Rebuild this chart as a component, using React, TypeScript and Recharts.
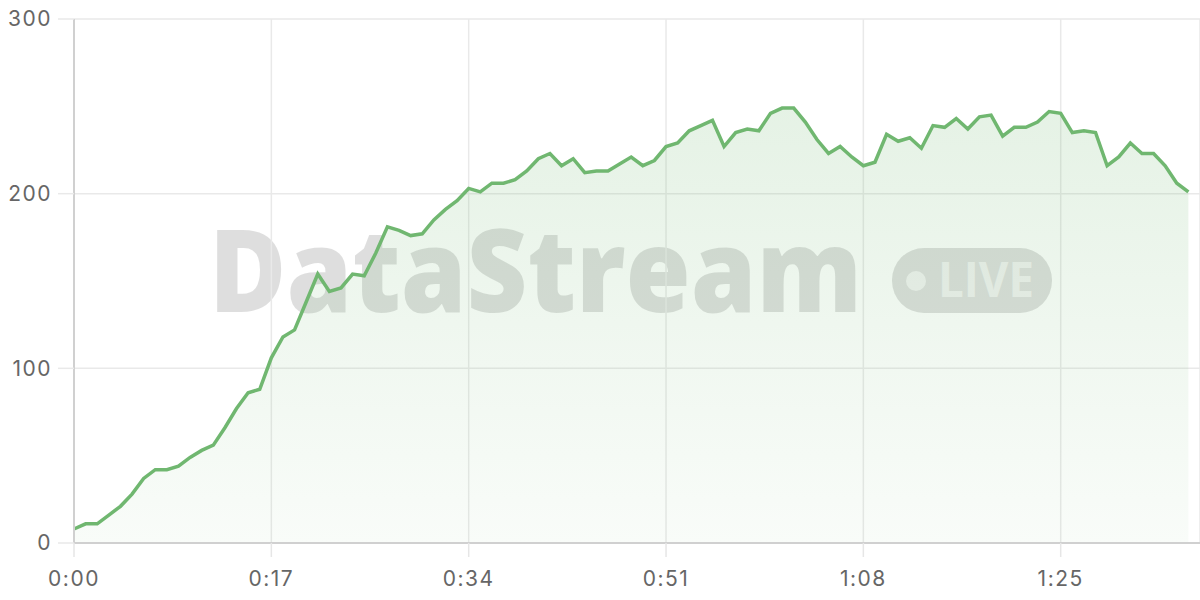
import { AreaChart, Area, XAxis, YAxis, CartesianGrid } from 'recharts'

// one reading per second, 0:00 .. 1:36
const values = [
  8, 11, 11, 16, 21, 28, 37, 42, 42, 44, 49, 53, 56, 66, 77, 86, 88,
  106, 118, 122, 138, 154, 144, 146, 154, 153, 166, 181, 179, 176, 177, 185, 191, 196,
  203, 201, 206, 206, 208, 213, 220, 223, 216, 220, 212, 213, 213, 217, 221, 216, 219,
  227, 229, 236, 239, 242, 227, 235, 237, 236, 246, 249, 249, 241, 231, 223, 227, 221,
  216, 218, 234, 230, 232, 226, 239, 238, 243, 237, 244, 245, 233, 238, 238, 241,
  247, 246, 235, 236, 235, 216, 221, 229, 223, 223, 216, 206, 201,
]
const xTicks = [0, 17, 34, 51, 68, 85]
const yTicks = [0, 100, 200, 300]

const data = values.map((v, i) => ({ t: i, v }))

const fmtTime = (t: number) => `${Math.floor(t / 60)}:${String(t % 60).padStart(2, '0')}`

const GREEN = '#70b770'
const LABEL = { fill: '#666', fontSize: 21, fontFamily: 'Inter, sans-serif', letterSpacing: 1.5 }

function Watermark() {
  return (
    <svg width={1200} height={600} style={{ position: 'absolute', left: 0, top: 0 }}>
      <g fill="rgba(0,0,0,0.13)" fontFamily="'Open Sans', sans-serif" fontWeight={800}>
        <text x={209} y={312} fontSize={116} textLength={653} lengthAdjust="spacingAndGlyphs">DataStream</text>
        <rect x={892} y={248} width={160} height={65} rx={32} />
      </g>
      <circle cx={916} cy={281} r={10} fill="rgba(255,255,255,0.6)" />
      <text x={938} y={297} fontSize={48} fontWeight={700} fontFamily="'Open Sans', sans-serif"
        fill="rgba(255,255,255,0.6)" textLength={96} lengthAdjust="spacingAndGlyphs">LIVE</text>
    </svg>
  )
}

export default function App() {
  return (
    <div style={{ position: 'absolute', left: 0, top: 0, width: 1200, height: 600, background: '#fff' }}>
      <Watermark />
      <div style={{ position: 'absolute', left: 0, top: 0 }}>
        <AreaChart width={1200} height={600} data={data} margin={{ top: 19, right: 0, bottom: 0, left: 0 }}>
          <defs>
            <linearGradient id="fillG" x1="0" y1="0" x2="0" y2="1">
              <stop offset="0%" stopColor={GREEN} stopOpacity={0.3} />
              <stop offset="100%" stopColor={GREEN} stopOpacity={0.07} />
            </linearGradient>
          </defs>
          <CartesianGrid stroke="#e9e9e9" strokeWidth={1.5} />
          <XAxis dataKey="t" type="number" domain={[0, 97]} ticks={xTicks} tickFormatter={fmtTime}
            height={57} tick={LABEL} tickSize={14} tickMargin={14}
            axisLine={{ stroke: '#d0d0d0', strokeWidth: 2 }} tickLine={{ stroke: '#e6e6e6', strokeWidth: 1.5 }} />
          <YAxis type="number" domain={[0, 300]} ticks={yTicks} width={74} tick={LABEL}
            tickSize={16} tickMargin={6}
            axisLine={{ stroke: '#d0d0d0', strokeWidth: 2 }} tickLine={{ stroke: '#e9e9e9', strokeWidth: 1.5 }} />
          <Area type="linear" dataKey="v" stroke={GREEN} strokeWidth={3.5} fill="url(#fillG)"
            dot={false} activeDot={false} isAnimationActive={false} />
        </AreaChart>
      </div>
    </div>
  )
}
